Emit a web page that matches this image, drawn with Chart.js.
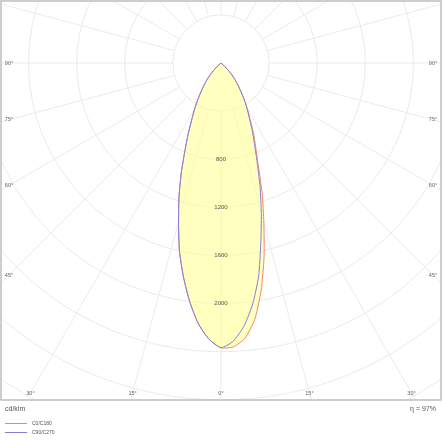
<!DOCTYPE html>
<html>
<head>
<meta charset="utf-8">
<script src="https://cdn.jsdelivr.net/npm/chart.js@4.4.1/dist/chart.umd.min.js"></script>
<style>
  html, body { margin: 0; padding: 0; background: #fff; }
  canvas { display: block; }
</style>
</head>
<body>
<canvas id="chart" width="444" height="440"></canvas>
<script>
// gamma angles (deg from nadir) and intensities in cd/klm
const angles = [0, 2.5, 5, 7.5, 10, 12.5, 15, 17.5, 20, 22.5, 25, 27.5, 30, 32.5, 35, 37.5, 40, 42.5, 45, 47.5, 50, 60, 70, 80, 90];
const c0   = [2365, 2362, 2296, 2150, 1921, 1653, 1377, 1139, 905, 752, 636, 520, 436, 358, 286, 230, 182, 135, 85, 35, 0, 0, 0, 0, 0];
const c180 = [2367, 2298, 2173, 1999, 1802, 1598, 1364, 1159, 962, 780, 641, 523, 436, 358, 286, 230, 182, 135, 85, 35, 0, 0, 0, 0, 0];
const c90  = [2367, 2315, 2195, 2020, 1800, 1530, 1295, 1080, 880, 725, 610, 505, 430, 358, 286, 230, 182, 135, 85, 35, 0, 0, 0, 0, 0];
const c270 = [2367, 2298, 2173, 1999, 1802, 1598, 1364, 1159, 962, 780, 641, 523, 436, 358, 286, 230, 182, 135, 85, 35, 0, 0, 0, 0, 0];

const seriesNames = ['C0/C180', 'C90/C270'];
const ringValues = [400, 800, 1200, 1600, 2000, 2400, 2800, 3200, 3600, 4000];
const ringLabels = [800, 1200, 1600, 2000];
const angleTicks = [0, 15, 30, 45, 60, 75, 90];
const unitText = 'cd/klm';
const etaText = 'η = 97%';

const redColor = 'rgb(242,134,118)';
const blueColor = 'rgb(132,126,222)';

// left half goes from 90 down to 0, right half back up to 90
function toPoints(left, right) {
    const pts = [];
    for (let i = angles.length - 1; i >= 0; i--) {
        const a = angles[i] * Math.PI / 180;
        pts.push({x: -left[i] * Math.sin(a), y: -left[i] * Math.cos(a)});
    }
    for (let i = 1; i < angles.length; i++) {
        const a = angles[i] * Math.PI / 180;
        pts.push({x: right[i] * Math.sin(a), y: -right[i] * Math.cos(a)});
    }
    return pts;
}

const pxPerUnit = 0.1203;
const box = {left: 1, top: 1, right: 441, bottom: 400, cx: 221, cy: 63};

const polarGrid = {
    id: 'polarGrid',
    beforeDraw(chart) {
        const ctx = chart.ctx;
        const area = chart.chartArea;
        const xs = chart.scales.x, ys = chart.scales.y;
        const cx = xs.getPixelForValue(0), cy = ys.getPixelForValue(0);
        const rad = v => xs.getPixelForValue(v) - cx;
        ctx.save();
        ctx.fillStyle = '#fff';
        ctx.fillRect(0, 0, chart.width, chart.height);
        ctx.beginPath();
        ctx.rect(area.left, area.top, area.right - area.left, area.bottom - area.top);
        ctx.clip();
        ctx.strokeStyle = '#ebebeb';
        ctx.lineWidth = 1;
        ringValues.forEach(v => {
            ctx.beginPath();
            ctx.arc(cx, cy, rad(v), 0, Math.PI * 2);
            ctx.stroke();
        });
        const r0 = rad(ringValues[0]), r1 = rad(ringValues[ringValues.length - 1]);
        for (let d = 0; d < 360; d += 15) {
            const a = d * Math.PI / 180;
            ctx.beginPath();
            ctx.moveTo(cx + r0 * Math.sin(a), cy + r0 * Math.cos(a));
            ctx.lineTo(cx + r1 * Math.sin(a), cy + r1 * Math.cos(a));
            ctx.stroke();
        }
        ctx.restore();
    },
    afterDraw(chart) {
        const ctx = chart.ctx;
        const area = chart.chartArea;
        const xs = chart.scales.x, ys = chart.scales.y;
        const cx = xs.getPixelForValue(0), cy = ys.getPixelForValue(0);
        ctx.save();
        ctx.strokeStyle = '#bdbdbd';
        ctx.lineWidth = 1.5;
        ctx.strokeRect(area.left, area.top, area.right - area.left, area.bottom - area.top);

        ctx.fillStyle = '#555';
        ctx.textAlign = 'center';
        ctx.textBaseline = 'middle';
        ctx.font = '6px "Liberation Sans", Arial, sans-serif';
        ringLabels.forEach(v => {
            ctx.fillText(String(v), cx, ys.getPixelForValue(-v));
        });

        ctx.fillStyle = '#666';
        ctx.font = '5.5px "Liberation Sans", Arial, sans-serif';
        const sideL = area.left + 8, sideR = area.right - 8, low = area.bottom - 7;
        angleTicks.forEach(d => {
            const a = d * Math.PI / 180;
            [-1, 1].forEach(s => {
                if (d === 0 && s < 0) return;
                const dx = Math.sin(a), dy = Math.cos(a);
                let t = dy > 1e-6 ? (low - cy) / dy : Infinity;
                if (dx > 1e-6) t = Math.min(t, ((s > 0 ? sideR : cx + (cx - sideL)) - cx) / dx);
                ctx.fillText(d + '°', cx + s * dx * t, cy + dy * t);
            });
        });

        ctx.fillStyle = '#555';
        ctx.font = '7px "Liberation Sans", Arial, sans-serif';
        ctx.textAlign = 'left';
        ctx.fillText(unitText, 5, area.bottom + 9);
        ctx.textAlign = 'right';
        ctx.fillText(etaText, 436, area.bottom + 9);

        ctx.font = '5px "Liberation Sans", Arial, sans-serif';
        ctx.textAlign = 'left';
        [redColor, blueColor].forEach((c, i) => {
            const y = area.bottom + 23.5 + i * 9;
            ctx.strokeStyle = c;
            ctx.lineWidth = 1;
            ctx.beginPath();
            ctx.moveTo(5, y);
            ctx.lineTo(27, y);
            ctx.stroke();
            ctx.fillStyle = '#555';
            ctx.fillText(seriesNames[i], 32, y);
        });
        ctx.restore();
    }
};

const chart = new Chart(document.getElementById('chart'), {
    type: 'scatter',
    data: {
        datasets: [{
            label: seriesNames[0],
            data: toPoints(c180, c0),
            showLine: true,
            borderColor: redColor,
            borderWidth: 1,
            backgroundColor: 'rgba(255,255,150,0.6)',
            fill: 'shape',
            pointRadius: 0,
            tension: 0.2,
            order: 2
        }, {
            label: seriesNames[1],
            data: toPoints(c270, c90),
            showLine: true,
            borderColor: blueColor,
            borderWidth: 1,
            fill: false,
            pointRadius: 0,
            tension: 0.2,
            order: 1
        }]
    },
    options: {
        responsive: false,
        devicePixelRatio: 1,
        animation: false,
        layout: {
            padding: {left: box.left, top: box.top, right: 444 - box.right, bottom: 440 - box.bottom}
        },
        scales: {
            x: {
                display: false,
                min: -(box.cx - box.left) / pxPerUnit,
                max: (box.right - box.cx) / pxPerUnit
            },
            y: {
                display: false,
                min: -(box.bottom - box.cy) / pxPerUnit,
                max: (box.cy - box.top) / pxPerUnit
            }
        },
        plugins: {
            legend: {display: false},
            tooltip: {enabled: false}
        }
    },
    plugins: [polarGrid]
});
</script>
</body>
</html>
